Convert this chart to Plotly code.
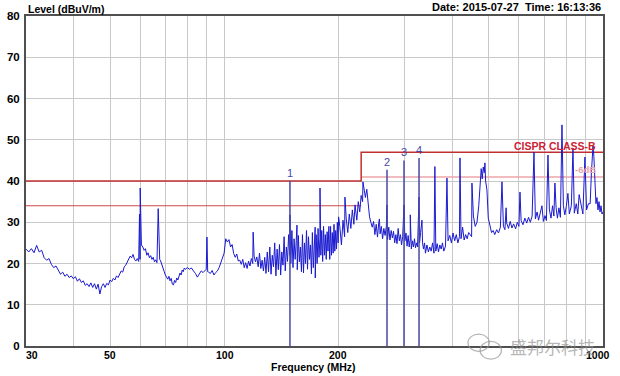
import math
import plotly.graph_objects as go

# ---------------- data ----------------
# baseline sweep 30-60 MHz
freq_a = [30.0, 30.5, 31.0, 31.5, 32.0, 32.5, 33.0, 33.5, 34.0, 34.5,
          35.0, 35.5, 36.0, 36.5, 37.0, 37.5, 38.0, 38.5, 39.0, 39.5,
          40.0, 40.5, 41.0, 41.5, 42.0, 42.5, 43.0, 43.5, 44.0, 44.5,
          45.0, 45.5, 46.0, 46.5, 47.0, 47.5, 48.0, 48.5, 49.0, 49.5,
          50.0, 50.5, 51.0, 51.5, 52.0, 52.5, 53.0, 53.5, 54.0, 54.5,
          55.0, 55.5, 56.0, 56.5, 57.0, 57.5, 58.0, 58.5, 59.0, 59.5,
          60.0]
level_a = [23.5, 22.8, 23.6, 22.6, 24.4, 22.8, 23.2, 21.4, 20.8, 21.2,
           19.8, 19.0, 19.4, 18.2, 17.4, 17.9, 16.9, 17.4, 16.6, 17.0,
           16.3, 16.8, 15.7, 16.3, 15.4, 15.8, 14.7, 15.1, 14.4, 15.3,
           14.2, 15.1, 13.8, 15.0, 12.6, 14.4, 15.1, 14.2, 15.2, 14.8,
           16.0, 15.6, 16.4, 16.0, 17.0, 16.6, 17.4, 18.2, 17.9, 19.2,
           19.6, 20.3, 20.9, 21.8, 21.4, 22.2, 21.0, 20.6, 21.2, 20.5,
           21.0]

# 60-100 MHz
freq_b = [60.5, 61.0, 61.5, 62.0, 62.5, 63.0, 63.5, 64.0, 64.5, 65.0,
          65.5, 66.0, 66.5, 67.6,
          68.0, 68.5, 69.0, 69.5, 70.0, 70.5, 71.0, 71.5, 72.0, 72.5,
          73.0, 73.5, 74.0, 74.5, 75.0, 75.5, 76.0, 76.5, 77.0, 77.5,
          78.0, 78.5, 79.0,
          80.0, 81.0, 82.0, 83.0, 84.0, 85.0, 86.0, 87.0, 88.0, 89.0,
          89.7, 90.5,
          91.0, 92.0, 93.0, 94.0, 95.0, 96.0, 97.0, 98.0, 99.0]
level_b = [24.5, 24.0, 23.2, 23.6, 22.0, 22.6, 21.4, 21.9, 21.0, 21.5,
           20.4, 20.9, 20.2, 21.0,
           20.6, 19.5, 19.0, 18.0, 17.2, 16.8, 16.2, 16.9, 15.8, 16.4,
           15.0, 14.8, 15.9, 15.4, 16.5, 16.0, 17.2, 17.7, 17.2, 18.4,
           18.0, 18.9, 18.6,
           19.0, 18.6, 18.9, 18.2, 17.6, 16.7, 17.5, 18.2, 17.8, 18.4,
           18.6, 18.0,
           17.9, 17.6, 18.3, 17.2, 17.8, 18.2, 19.0, 20.2, 21.8]

# 100-200 MHz (dense, noisy part)
freq_c = [100, 101, 102, 103, 104, 105, 106, 107, 108, 109,
          110, 111, 112, 113, 114, 115, 116, 117, 118, 119,
          120, 121, 122, 123, 124, 125, 126, 127, 128, 129,
          130, 131, 132, 133, 134, 135, 136, 137, 138, 139,
          140, 141, 142, 143, 144, 145, 146, 147, 148, 149,
          150, 151, 152, 153, 154, 155, 156, 157, 158, 159,
          160, 161, 162, 163, 164, 165, 166, 167, 168, 169,
          170, 171, 172, 173, 174, 175, 176, 177, 178, 179,
          180, 181, 182, 183, 184, 185, 186, 187, 188, 189,
          190, 191, 192, 193, 194, 195, 196, 197, 198, 199,
          200]
level_c = [22.5, 26.0, 25.2, 25.8, 24.0, 24.6, 22.4, 21.5, 22.3, 20.6,
           20.8, 19.8, 21.0, 19.0, 20.2, 18.8, 20.6, 19.4, 21.2, 20.0,
           21.8, 20.4, 21.6, 19.2, 22.5, 18.8, 20.8, 18.2, 21.5, 17.6,
           22.8, 18.0, 24.0, 17.4, 22.0, 19.2, 25.0, 17.0, 23.5, 18.5,
           24.6, 17.2, 22.8, 19.6, 26.5, 18.2, 24.0, 20.5, 27.0, 22.0,
           20.0, 28.0, 19.0, 26.0, 21.0, 25.5, 18.5, 26.8, 20.4, 24.0,
           18.0, 27.0, 17.7, 25.0, 20.0, 28.0, 18.6, 26.5, 21.0, 24.5,
           17.5, 27.5, 19.0, 25.8, 16.5, 27.0, 20.0, 28.5, 21.5, 26.0,
           22.0, 28.0, 20.5, 29.0, 22.0, 27.0, 21.0, 27.7, 23.0, 29.0,
           21.0, 29.0, 22.0, 27.5, 22.5, 29.5, 23.0, 28.0, 23.5, 30.0,
           25.0]

# 200-240 MHz
freq_d = [202, 204, 206, 208, 210, 212, 214, 216, 218, 220,
          222, 224, 226, 228, 230, 232, 234, 236, 238, 240]
level_d = [29.0, 24.5, 30.5, 26.5, 31.0, 27.5, 32.0, 28.5, 33.0, 29.5,
           33.5, 30.5, 35.0, 32.5, 36.5, 35.0, 38.5, 36.0, 38.0, 33.7]

# 240-450 MHz
freq_e = [242, 244, 246, 248, 250, 252, 254, 256, 258, 260,
          262, 264, 266, 268, 270, 272, 274, 276, 278, 280,
          282, 284, 286, 288, 290, 292, 294, 296,
          300, 302, 304, 306, 308, 310, 312, 314, 316, 318, 320, 322, 324,
          328, 330, 334, 336, 338, 340,
          343, 346, 349, 352, 355, 358,
          362, 365, 368, 371, 374, 377, 380,
          384,
          390, 394, 398, 402, 406, 410, 414, 418, 422, 426, 430, 434, 438, 442, 446]
level_e = [31.3, 30.0, 28.8, 30.2, 27.0, 29.5, 26.4, 30.0, 27.2, 29.0,
           26.0, 28.5, 26.8, 29.0, 25.8, 28.8, 25.7, 28.0, 26.2, 27.8,
           25.0, 27.0, 24.8, 28.5, 25.5, 27.0, 24.5, 26.5,
           25.5, 27.4, 24.2, 26.8, 24.0, 26.0, 23.5, 25.5, 24.0, 26.0, 23.8, 25.0, 24.0,
           25.0, 27.5, 25.0, 23.5, 25.0, 22.5,
           24.5, 22.8, 24.0, 23.0, 25.0, 22.5,
           23.0, 24.8, 22.8, 24.5, 23.5, 25.0, 23.0,
           24.2,
           25.5, 26.8, 25.0, 27.4, 25.5, 27.0, 25.0, 26.5, 26.0, 28.8, 25.7, 27.0, 26.0, 27.5, 27.0]

# 450-1000 MHz
freq_f = [450, 455, 460, 465, 470, 474, 477, 480, 483, 486,
          490, 494, 498, 503, 508, 513, 518, 524, 530, 536,
          546, 551, 557, 563, 569, 575, 581, 588, 594, 600,
          608, 615, 622, 629, 636, 643, 650, 663, 670, 676,
          683, 696, 703, 709, 722, 729, 736, 742, 752, 758,
          765, 772, 786, 793, 800, 815, 825, 840, 850, 858,
          875, 885, 905, 915, 925, 932, 938, 946, 952, 958,
          964, 970, 976, 982, 988, 994, 1000]
level_f = [26.5, 31.5, 29.0, 30.0, 34.0, 41.0, 43.0, 40.5, 43.4, 42.0,
           40.0, 37.8, 31.0, 29.5, 27.5, 28.0, 27.0, 28.2, 27.4, 28.8,
           29.0, 28.2, 29.8, 28.5, 30.2, 28.6, 29.6, 28.4, 30.0, 29.0,
           30.4, 29.4, 31.0, 29.8, 31.2, 30.0, 31.5, 30.8, 32.5, 30.5,
           32.0, 30.2, 31.6, 30.4, 33.0, 31.0, 34.0, 31.5, 33.5, 31.0,
           33.5, 31.2, 34.0, 31.8, 33.8, 32.0, 34.0, 32.2, 34.5, 32.0,
           34.0, 32.0, 33.0, 34.5, 34.5, 42.0, 47.0, 46.0, 38.0, 34.5,
           36.0, 33.0, 35.0, 32.5, 34.0, 32.0, 32.5]

# narrow emission spikes
spike_freq = [59.8, 60.05, 67.0, 90.1, 119.3, 149.2, 155.7, 173.9, 179.1, 200.5,
              208.4, 221.6, 232.5, 257.0, 269.1, 298.4, 310.0, 326.9, 332.8, 360.0,
              387.4, 419.3, 450.9, 488.0, 541.2, 555.0, 603.8, 657.4, 690.0, 715.8,
              746.6, 779.3, 808.0, 833.2, 865.0, 896.1, 941.0]
spike_level = [32.0, 38.3, 33.3, 26.4, 27.6, 31.8, 29.3, 28.8, 38.3, 31.3,
               36.1, 34.2, 39.8, 30.8, 34.2, 34.2, 31.8, 36.1, 30.5, 43.5,
               40.7, 45.6, 39.5, 44.4, 39.8, 33.5, 37.3, 47.0, 34.0, 46.3,
               39.5, 53.6, 37.0, 48.0, 36.7, 45.8, 48.5]

# markers
marker_freq = [149.2, 269.1, 298.4, 326.9]
marker_top = [40.0, 42.7, 45.0, 45.6]
marker_label = ["1", "2", "3", "4"]

# limit lines (CISPR class B and -6 dB margin)
limit_freq = [30, 230, 230, 1000]
limit_level = [40, 40, 47, 47]
margin_low_freq = [30, 230]
margin_low_level = [34, 34]
margin_high_freq = [230, 1000]
margin_high_level = [41, 41]

# axes
grid_freq = [30, 40, 50, 60, 70, 80, 90, 100, 200, 300, 400, 500, 600, 700, 800, 900, 1000]
label_freq = [30, 50, 100, 200, 1000]
label_shift = [6, 0, 1, 0, -5]
y_ticks = [0, 10, 20, 30, 40, 50, 60, 70, 80]

# ---------------- build ----------------
pairs = [(freq_a, level_a), (freq_b, level_b), (freq_c, level_c), (freq_d, level_d),
         (freq_e, level_e), (freq_f, level_f), (spike_freq, spike_level)]
all_f, all_l = [], []
for fl, ll in pairs:
    if len(fl) != len(ll):
        raise ValueError("length mismatch %d %d" % (len(fl), len(ll)))
    all_f += list(fl)
    all_l += list(ll)
order = sorted(range(len(all_f)), key=lambda i: all_f[i])
trace_f = [all_f[i] for i in order]
trace_l = [all_l[i] for i in order]

FONT = "Liberation Sans, Arial, sans-serif"
fig = go.Figure()

fig.add_trace(go.Scatter(x=margin_low_freq, y=margin_low_level, mode="lines",
                         line=dict(color="#cc4a4a", width=1), hoverinfo="skip"))
fig.add_trace(go.Scatter(x=margin_high_freq, y=margin_high_level, mode="lines",
                         line=dict(color="#eea4a8", width=1.5), hoverinfo="skip"))
fig.add_trace(go.Scatter(x=limit_freq, y=limit_level, mode="lines",
                         line=dict(color="#c03030", width=1.5), hoverinfo="skip"))
fig.add_trace(go.Scatter(x=trace_f, y=trace_l, mode="lines",
                         line=dict(color="#1a1ad0", width=1)))
for f, top in zip(marker_freq, marker_top):
    fig.add_trace(go.Scatter(x=[f, f], y=[0, top], mode="lines",
                             line=dict(color="#4848a8", width=1.5), hoverinfo="skip"))

ann = []
for f, top, lab in zip(marker_freq, marker_top, marker_label):
    ann.append(dict(x=math.log10(f), y=top, xref="x", yref="y", text=lab,
                    showarrow=False, yanchor="bottom", xanchor="center",
                    font=dict(family=FONT, size=11, color="#4848a8")))
for f, s in zip(label_freq, label_shift):
    ann.append(dict(x=math.log10(f), y=-0.027, xref="x", yref="paper",
                    text="<b>%d</b>" % f, showarrow=False, xshift=s,
                    yanchor="middle", xanchor="center",
                    font=dict(family=FONT, size=10.5, color="#000000")))
ann += [
    dict(x=0.0, y=1.022, xref="paper", yref="paper", text="<b>Level (dBuV/m)</b>",
         showarrow=False, xanchor="left", yanchor="middle",
         font=dict(family=FONT, size=10.5, color="#000000")),
    dict(x=1.0, y=1.027, xref="paper", yref="paper",
         text="<b>Date: 2015-07-27&nbsp;&nbsp;Time: 16:13:36</b>",
         showarrow=False, xanchor="right", yanchor="middle",
         font=dict(family=FONT, size=11, color="#000000")),
    dict(x=0.498, y=-0.064, xref="paper", yref="paper", text="<b>Frequency (MHz)</b>",
         showarrow=False, xanchor="center", yanchor="middle",
         font=dict(family=FONT, size=10.5, color="#000000")),
    dict(x=0.9913, y=48.5, xref="paper", yref="y", text="<b>CISPR CLASS-B</b>",
         showarrow=False, xanchor="right", yanchor="middle",
         font=dict(family=FONT, size=10.5, color="#cc2233")),
    dict(x=0.9913, y=42.7, xref="paper", yref="y", text="<b>-6dB</b>",
         showarrow=False, xanchor="right", yanchor="middle",
         font=dict(family=FONT, size=9.5, color="#e8a4ac")),
    dict(x=0.913, y=0.0, xref="paper", yref="paper", text="盛邦尔科技",
         showarrow=False, xanchor="center", yanchor="middle",
         font=dict(family="Noto Sans CJK SC", size=17, color="rgba(140,140,140,0.65)")),
]

shapes = [
    dict(type="circle", xref="paper", yref="paper", x0=0.766, x1=0.803, y0=-0.016, y1=0.036,
         line=dict(color="rgba(150,150,150,0.7)", width=1.2)),
    dict(type="circle", xref="paper", yref="paper", x0=0.787, x1=0.824, y0=-0.040, y1=0.014,
         line=dict(color="rgba(150,150,150,0.7)", width=1.2)),
]

fig.update_layout(
    width=620, height=376,
    margin=dict(l=26, r=17, t=16, b=30, autoexpand=False),
    paper_bgcolor="white", plot_bgcolor="white",
    showlegend=False,
    annotations=ann, shapes=shapes,
    xaxis=dict(type="log", range=[math.log10(30), 3], tickvals=grid_freq,
               showticklabels=False, ticks="", showgrid=True, gridcolor="#c8c8c8",
               gridwidth=1, zeroline=False, showline=True, mirror=True,
               linecolor="#505050", linewidth=2, automargin=False),
    yaxis=dict(range=[0, 80], tickvals=y_ticks,
               ticktext=["<b>%d</b>" % v for v in y_ticks], ticks="",
               tickfont=dict(family=FONT, size=11.5, color="#000000"),
               showgrid=True, gridcolor="#c8c8c8", gridwidth=1, zeroline=False,
               showline=True, mirror=True, linecolor="#505050", linewidth=2,
               ticklabelstandoff=2, automargin=False),
)

fig.write_html("out.html", config={"displayModeBar": False},
               post_script="document.body.style.margin='0px';")
